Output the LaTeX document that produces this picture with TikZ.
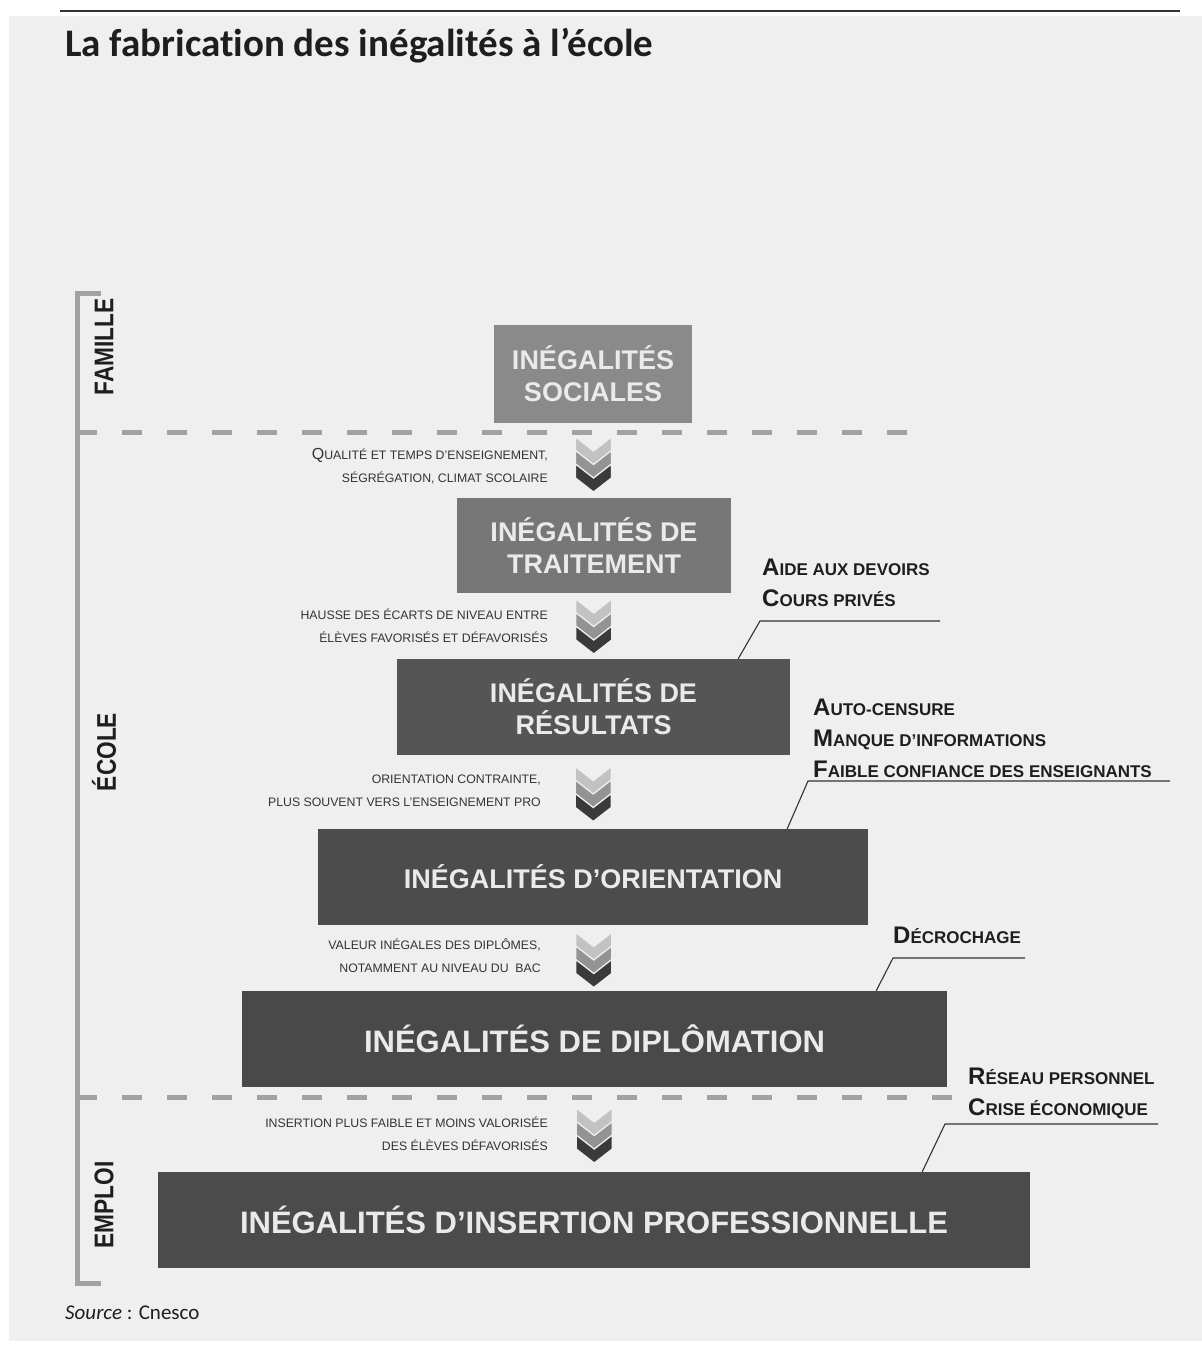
\documentclass[tikz,border=0pt]{standalone}
\usepackage{fontspec}
\setmainfont{Liberation Sans}
\newfontfamily\titlefont[Ligatures=NoCommon]{Carlito}
\usetikzlibrary{calc}
\definecolor{pagebg}{HTML}{EFEFEF}
\definecolor{boxtext}{HTML}{EAEAEA}
\definecolor{boxA}{HTML}{8A8A8A}
\definecolor{boxB}{HTML}{777777}
\definecolor{boxC}{HTML}{555555}
\definecolor{boxD}{HTML}{4C4C4C}
\definecolor{boxE}{HTML}{494949}
\definecolor{boxF}{HTML}{4B4B4B}
\definecolor{chevA}{HTML}{C2C2C2}
\definecolor{chevB}{HTML}{939393}
\definecolor{chevC}{HTML}{3A3A3A}
\definecolor{sepgray}{HTML}{A2A2A2}
\definecolor{inkdark}{HTML}{1E1E1E}
\definecolor{inkmid}{HTML}{333333}
\newcommand\capsc[2]{{\fontsize{24}{31}\selectfont #1}{\fontsize{17}{31}\selectfont #2}}
\newcommand\zonetext[1]{\scalebox{0.84}[1]{#1}}
\tikzset{
  chev/.pic={
    \foreach \k/\c in {0/chevA,1/chevB,2/chevC}{
      \pgfmathsetmacro\yo{-27.5+13.5*\k}
      \filldraw[fill=\c, draw=pagebg, line width=1.3pt]
        (-18,\yo) -- (0,\yo+14) -- (18,\yo) -- (18,\yo+14) -- (0,\yo+28) -- (-18,\yo+14) -- cycle;
    }
  }
}
\begin{document}
\begin{tikzpicture}[x=1pt,y=-1pt,
  ibox/.style={fill=#1, text=boxtext, align=center, inner sep=0pt,
    font=\bfseries\fontsize{27}{32}\selectfont},
  bigbox/.style={ibox=#1, font=\bfseries\fontsize{31}{36}\selectfont},
  lbl/.style={anchor=east, align=right, text=inkmid, inner sep=0pt,
    font=\fontsize{12.3}{23}\selectfont},
  rlbl/.style={anchor=west, align=left, text=inkdark, inner sep=0pt,
    font=\bfseries\fontsize{17}{31}\selectfont},
  zone/.style={rotate=90, text=inkdark, inner sep=0pt,
    font=\bfseries\fontsize{27}{27}\selectfont},
  sepline/.style={draw=sepgray, line width=5pt, dash pattern=on 20pt off 25pt},
  bracketline/.style={draw=sepgray, line width=5pt},
  leader/.style={draw=inkmid, line width=1.1pt}
]
\useasboundingbox (0,0) rectangle (1202,1347);
\fill[white] (0,0) rectangle (1202,1347);
\fill[pagebg] (9,16) rectangle (1202,1341);
\draw[line width=1.2pt, inkmid] (60,11) -- (1180,11);

% title
\node[anchor=base west, inner sep=0pt, text=inkdark, font=\titlefont\bfseries\fontsize{39}{42}\selectfont] (title) at (65,56) {La fabrication des inégalités à l’école};

% bracket and separators
\draw[bracketline] (101,293) -- (77,293) -- (77,1283) -- (101,1283);
\draw[sepline] (77,432) -- (918,432);
\draw[sepline] (77,1097) -- (958,1097);

% zone labels
\node[zone] (famille) at (104,347) {\zonetext{FAMILLE}};
\node[zone] (ecole) at (104,752) {\zonetext{ÉCOLE}};
\node[zone] (emploi) at (104,1205) {\zonetext{EMPLOI}};

% boxes
\node[ibox=boxA, minimum width=198pt, minimum height=98pt] (b1) at (593,374) {INÉGALITÉS\\SOCIALES};
\node[ibox=boxB, minimum width=274pt, minimum height=95pt] (b2) at (594,545.5) {INÉGALITÉS DE\\TRAITEMENT};
\node[ibox=boxC, minimum width=393pt, minimum height=96pt] (b3) at (593.5,707) {INÉGALITÉS DE\\RÉSULTATS};
\node[ibox=boxD, minimum width=550pt, minimum height=96pt] (b4) at (593,877) {INÉGALITÉS D’ORIENTATION};
\node[bigbox=boxE, minimum width=705pt, minimum height=96pt] (b5) at (594.5,1039) {INÉGALITÉS DE DIPLÔMATION};
\node[bigbox=boxF, minimum width=872pt, minimum height=96pt] (b6) at (594,1220) {INÉGALITÉS D’INSERTION PROFESSIONNELLE};

% chevrons
\pic at ($(b1.south)!0.5!(b2.north)+(0,4)$) {chev};
\pic at ($(b2.south)!0.5!(b3.north)+(0,0.5)$) {chev};
\pic at ($(b3.south)!0.5!(b4.north)+(0,2)$) {chev};
\pic at ($(b4.south)!0.5!(b5.north)+(0,2)$) {chev};
\pic at ($(b5.south)!0.5!(b6.north)+(0,6)$) {chev};

% left labels
\node[lbl] (t1) at (548,466.5) {{\fontsize{16}{23}\selectfont Q}UALITÉ ET TEMPS D'ENSEIGNEMENT,\\SÉGRÉGATION, CLIMAT SCOLAIRE};
\node[lbl] (t2) at (548,626) {HAUSSE DES ÉCARTS DE NIVEAU ENTRE\\ÉLÈVES FAVORISÉS ET DÉFAVORISÉS};
\node[lbl] (t3) at (541,791) {ORIENTATION CONTRAINTE,\\PLUS SOUVENT VERS L’ENSEIGNEMENT PRO};
\node[lbl] (t4) at (541,956) {VALEUR INÉGALES DES DIPLÔMES,\\NOTAMMENT AU NIVEAU DU \ BAC};
\node[lbl] (t5) at (548,1133.5) {INSERTION PLUS FAIBLE ET MOINS VALORISÉE\\DES ÉLÈVES DÉFAVORISÉS};

% right labels
\node[rlbl] (r1) at (762,582.5) {\capsc{A}{IDE AUX DEVOIRS}\\\capsc{C}{OURS PRIVÉS}};
\node[rlbl] (r2) at (813,738) {\capsc{A}{UTO-CENSURE}\\\capsc{M}{ANQUE D’INFORMATIONS}\\\capsc{F}{AIBLE CONFIANCE DES ENSEIGNANTS}};
\node[rlbl] (r3) at (893,935) {\capsc{D}{ÉCROCHAGE}};
\node[rlbl] (r4) at (968,1093) {\capsc{R}{ÉSEAU PERSONNEL}\\\capsc{C}{RISE ÉCONOMIQUE}};

% leaders
\coordinate (k1) at (760,621);
\coordinate (k1e) at (940,621);
\draw[leader] ([xshift=-52pt]b3.north east) -- (k1) -- (k1e);
\coordinate (k2) at (808,781);
\coordinate (k2e) at (1170,781);
\draw[leader] ([xshift=-81pt]b4.north east) -- (k2) -- (k2e);
\coordinate (k3) at (893,958);
\coordinate (k3e) at (1025,958);
\draw[leader] ([xshift=-71pt]b5.north east) -- (k3) -- (k3e);
\coordinate (k4) at (945,1124);
\coordinate (k4e) at (1158,1124);
\draw[leader] ([xshift=-108pt]b6.north east) -- (k4) -- (k4e);

% source
\node[anchor=west, inner sep=0pt, text=inkdark, font=\titlefont\fontsize{21}{24}\selectfont] (src) at (65,1313) {\textit{Source} : Cnesco};
\end{tikzpicture}
\end{document}
